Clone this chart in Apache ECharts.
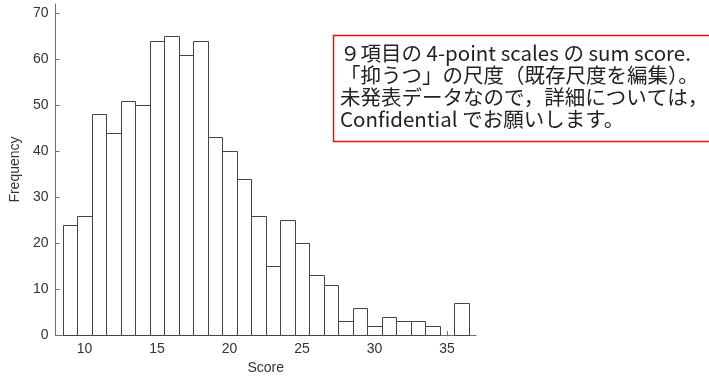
<!DOCTYPE html>
<html>
<head>
<meta charset="utf-8">
<script src="https://cdn.jsdelivr.net/npm/echarts@6/dist/echarts.min.js"></script>
<style>
  html, body { margin: 0; padding: 0; background: #fff; }
  #chart { width: 709px; height: 380px; }
</style>
</head>
<body>
<div id="chart"></div>
<script>
// Score bins (integer sum scores) and their counts
const scores = [9, 10, 11, 12, 13, 14, 15, 16, 17, 18, 19, 20, 21, 22,
                23, 24, 25, 26, 27, 28, 29, 30, 31, 32, 33, 34, 35, 36];
const frequencies = [24, 26, 48, 44, 51, 50, 64, 65, 61, 64, 43, 40, 34, 26,
                     15, 25, 20, 13, 11, 3, 6, 2, 4, 3, 3, 2, 0, 7];

const xTicks = [10, 15, 20, 25, 30, 35];
const yTicks = [0, 10, 20, 30, 40, 50, 60, 70];

const noteLines = [
  '９項目の 4-point scales の sum score.',
  '「抑うつ」の尺度（既存尺度を編集）。',
  '未発表データなので，詳細については，',
  'Confidential でお願いします。'
];

const axisColor = '#6e6e6e';
const fontFamily = 'Liberation Sans, Arial, sans-serif';

const chart = echarts.init(document.getElementById('chart'), null, { renderer: 'canvas' });

chart.setOption({
  animation: false,
  backgroundColor: '#fff',
  grid: { left: 53, right: 233, top: 4, bottom: 42 },
  xAxis: {
    type: 'value',
    min: 8, max: 37,
    name: 'Score',
    nameLocation: 'middle',
    nameGap: 25,
    nameTextStyle: { color: '#333', fontSize: 14, fontFamily: fontFamily },
    axisLine: { show: true, lineStyle: { color: axisColor, width: 1 } },
    axisTick: { show: true, inside: true, length: 4, customValues: xTicks, lineStyle: { color: axisColor } },
    axisLabel: { margin: 7, customValues: xTicks, color: '#333', fontSize: 14, fontFamily: fontFamily },
    splitLine: { show: false }
  },
  yAxis: {
    type: 'value',
    min: 0, max: 72,
    name: 'Frequency',
    nameLocation: 'middle',
    nameGap: 29,
    nameTextStyle: { color: '#333', fontSize: 14, fontFamily: fontFamily },
    axisLine: { show: true, lineStyle: { color: axisColor, width: 1 } },
    axisTick: { show: true, inside: true, length: 4, customValues: yTicks, lineStyle: { color: axisColor } },
    axisLabel: { margin: 7, customValues: yTicks, color: '#333', fontSize: 14, fontFamily: fontFamily },
    splitLine: { show: false }
  },
  series: [{
    type: 'custom',
    data: scores.map((s, i) => [s, frequencies[i]]),
    renderItem: function (params, api) {
      const x = api.value(0), y = api.value(1);
      if (y <= 0) return null;
      const topLeft = api.coord([x - 0.5, y]);
      const bottomRight = api.coord([x + 0.5, 0]);
      return {
        type: 'rect',
        shape: {
          x: Math.round(topLeft[0]) + 0.5,
          y: Math.round(topLeft[1]) + 0.5,
          width: Math.round(bottomRight[0]) - Math.round(topLeft[0]),
          height: Math.round(bottomRight[1]) - Math.round(topLeft[1])
        },
        style: { fill: '#fff', stroke: '#444', lineWidth: 1 }
      };
    }
  }],
  graphic: {
    elements: [
      {
        type: 'rect',
        x: 333,
        y: 35,
        shape: { x: 0.5, y: 0.5, width: 400, height: 106 },
        style: { fill: '#ffffff', stroke: '#f01010', lineWidth: 1.5 },
        z: 100
      },
      {
        type: 'text',
        x: 340,
        y: 42,
        style: {
          text: noteLines.join('\n'),
          fill: '#222',
          fontSize: 20.5,
          lineHeight: 22,
          fontFamily: 'Noto Sans CJK JP, sans-serif'
        },
        z: 101
      }
    ]
  }
});
</script>
</body>
</html>
